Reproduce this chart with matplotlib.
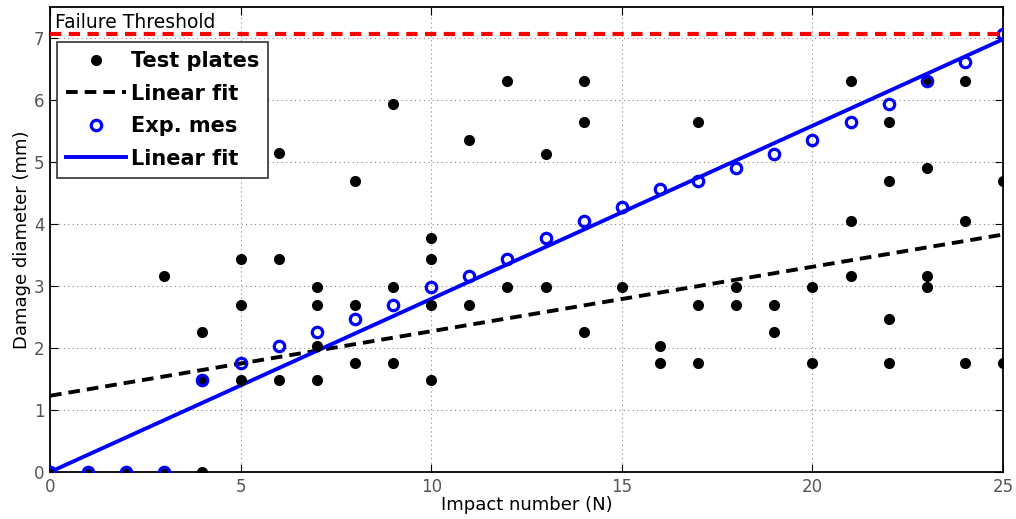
import matplotlib as mpl
mpl.use('Agg')
import matplotlib.pyplot as plt

# test plates: (impact number, damage diameter mm)
plates_x = [0, 1, 2, 3, 3,
            4, 4, 4,
            5, 5, 5,
            6, 6, 6,
            7, 7, 7, 7,
            8, 8, 8,
            9, 9, 9,
            10, 10, 10, 10,
            11, 11,
            12, 12,
            13, 13,
            14, 14, 14,
            15,
            16, 16,
            17, 17, 17,
            18, 18,
            19, 19,
            20, 20,
            21, 21, 21,
            22, 22, 22, 22,
            23, 23, 23, 23,
            24, 24, 24,
            25, 25]
plates_y = [0, 0, 0, 0, 3.16,
            0, 1.48, 2.26,
            1.48, 2.70, 3.44,
            1.48, 3.44, 5.14,
            1.48, 2.03, 2.70, 2.99,
            1.76, 2.70, 4.70,
            1.76, 2.99, 5.93,
            1.48, 2.70, 3.44, 3.77,
            2.70, 5.36,
            2.99, 6.30,
            2.99, 5.13,
            2.26, 5.64, 6.30,
            2.99,
            1.76, 2.03,
            1.76, 2.70, 5.64,
            2.70, 2.99,
            2.26, 2.70,
            1.76, 2.99,
            3.16, 4.05, 6.30,
            1.76, 2.46, 4.70, 5.64,
            2.99, 3.16, 4.90, 6.30,
            1.76, 4.05, 6.30,
            1.76, 4.70]

# experimental measurements
exp_x = list(range(0, 26))
exp_y = [0, 0, 0, 0, 1.48, 1.76, 2.03, 2.26, 2.47, 2.70, 2.99, 3.16, 3.44,
         3.77, 4.05, 4.28, 4.56, 4.70, 4.90, 5.13, 5.36, 5.64, 5.93, 6.30,
         6.62, 7.06]

# linear fits (end points)
fit_x = [0, 25]
plates_fit = [1.23, 3.83]
exp_fit = [0, 6.98]

threshold = 7.06

fig = plt.figure(figsize=(10.16, 5.19), dpi=100)
ax = fig.add_axes([50/1016, 1 - 472/519, 953/1016, 465/519])

ax.plot(fit_x, [threshold, threshold], color='red', lw=3, dashes=(2.7, 1.8), zorder=4)
ax.plot(plates_x, plates_y, 'o', color='black', ms=7, label='Test plates', zorder=3)
ax.plot(fit_x, plates_fit, color='black', lw=2.8, dashes=(3, 1.8), label='Linear fit', zorder=2)
ax.plot(exp_x, exp_y, 'o', mfc='none', mec='blue', mew=2.3, ms=7.5, label='Exp. mes', zorder=3)
ax.plot(fit_x, exp_fit, color='blue', lw=2.8, label='Linear fit', zorder=2)

ax.set_xlim(0, 25)
ax.set_ylim(0, 7.5)
ax.set_xticks([0, 5, 10, 15, 20, 25])
ax.set_yticks(range(0, 8))
ax.grid(True, linestyle=(0, (1, 3)), color='#888888', lw=0.8)
ax.tick_params(direction='in', top=True, right=True, length=6, labelsize=12,
               labelcolor='#555555', pad=4)
for s in ax.spines.values():
    s.set_linewidth(1.3)

ax.set_xlabel('Impact number (N)', fontsize=13, labelpad=0)
ax.set_ylabel('Damage diameter (mm)', fontsize=13, labelpad=2)

ax.text(0.12, 7.16, 'Failure Threshold', fontsize=13.5, va='baseline', ha='left')

leg = ax.legend(loc='upper left', bbox_to_anchor=(0.007, 0.925), fancybox=False,
                edgecolor='#333333', framealpha=1, handlelength=2.9,
                prop={'weight': 'bold', 'size': 15}, borderpad=0.45,
                labelspacing=0.6, handletextpad=0.2, borderaxespad=0)
leg.get_frame().set_linewidth(1.2)

plt.savefig('out.png', dpi=100)
